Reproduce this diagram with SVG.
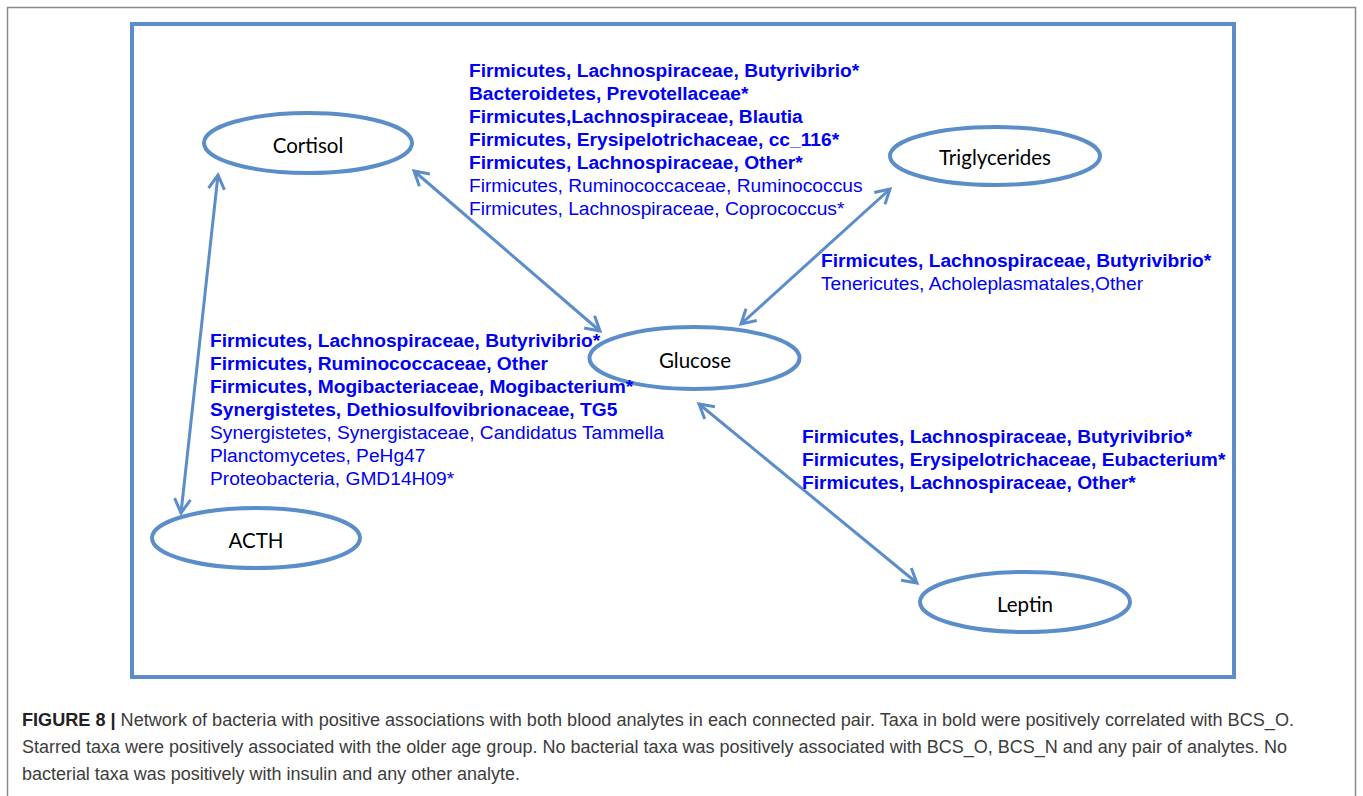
<svg xmlns="http://www.w3.org/2000/svg" width="1363" height="796" viewBox="0 0 1363 796">
<style>
.node ellipse{fill:#fff;stroke:#5b8ec9;stroke-width:4}
.node text{font-family:Lato,"Open Sans","Liberation Sans",sans-serif;font-size:20.5px;fill:#000;text-anchor:middle}
.taxa{font-family:"Liberation Sans",Arial,sans-serif;font-size:19.2px;fill:#0000f5}
.b{font-weight:bold}
.conn line{stroke:#5b8ec9;stroke-width:3;marker-start:url(#ah);marker-end:url(#ah)}
.cap{font-family:"Liberation Sans",Arial,sans-serif;font-size:17.5px;fill:#3c3c3c}
</style>
<defs>
<marker id="ah" markerUnits="userSpaceOnUse" markerWidth="30" markerHeight="30" refX="0" refY="0" orient="auto-start-reverse" overflow="visible" viewBox="-20 -15 30 30">
<path d="M-14,-8 L0,0 L-14,8" fill="none" stroke="#5b8ec9" stroke-width="3" stroke-linejoin="miter"/>
</marker>
</defs>
<rect width="1363" height="796" fill="#fff"/>
<path d="M7.5,800 V7.5 H1355.5 V800" fill="none" stroke="#8a8a8a" stroke-width="1.5"/>
<rect x="132" y="24" width="1102" height="653" fill="none" stroke="#5b8ec9" stroke-width="4"/>
<g class="conn">
<line x1="218" y1="175" x2="181" y2="513"/>
<line x1="414" y1="171" x2="600" y2="331"/>
<line x1="890" y1="189" x2="741" y2="324"/>
<line x1="699" y1="404" x2="917" y2="583"/>
</g>
<g id="cortisol" class="node"><ellipse cx="308" cy="143" rx="104" ry="30"/><text x="308" y="153">Cortisol</text></g>
<g id="triglycerides" class="node"><ellipse cx="995" cy="156" rx="105" ry="29"/><text x="995" y="165">Triglycerides</text></g>
<g id="glucose" class="node"><ellipse cx="694.5" cy="358" rx="105" ry="31"/><text x="695" y="368">Glucose</text></g>
<g id="acth" class="node"><ellipse cx="256" cy="538" rx="104" ry="30"/><text x="256" y="548">ACTH</text></g>
<g id="leptin" class="node"><ellipse cx="1025" cy="602" rx="105" ry="30"/><text x="1025" y="612">Leptin</text></g>
<g id="taxa-cortisol-glucose" class="taxa">
<text x="469" y="77" class="b">Firmicutes, Lachnospiraceae, Butyrivibrio*</text>
<text x="469" y="100" class="b">Bacteroidetes, Prevotellaceae*</text>
<text x="469" y="123" class="b">Firmicutes,Lachnospiraceae, Blautia</text>
<text x="469" y="146" class="b">Firmicutes, Erysipelotrichaceae, cc_116*</text>
<text x="469" y="169" class="b">Firmicutes, Lachnospiraceae, Other*</text>
<text x="469" y="192">Firmicutes, Ruminococcaceae, Ruminococcus</text>
<text x="469" y="215">Firmicutes, Lachnospiraceae, Coprococcus*</text>
</g>
<g id="taxa-triglycerides-glucose" class="taxa">
<text x="821" y="267" class="b">Firmicutes, Lachnospiraceae, Butyrivibrio*</text>
<text x="821" y="290">Tenericutes, Acholeplasmatales,Other</text>
</g>
<g id="taxa-cortisol-acth" class="taxa">
<text x="210" y="347" class="b">Firmicutes, Lachnospiraceae, Butyrivibrio*</text>
<text x="210" y="370" class="b">Firmicutes, Ruminococcaceae, Other</text>
<text x="210" y="393" class="b">Firmicutes, Mogibacteriaceae, Mogibacterium*</text>
<text x="210" y="416" class="b">Synergistetes, Dethiosulfovibrionaceae, TG5</text>
<text x="210" y="439">Synergistetes, Synergistaceae, Candidatus Tammella</text>
<text x="210" y="462">Planctomycetes, PeHg47</text>
<text x="210" y="485">Proteobacteria, GMD14H09*</text>
</g>
<g id="taxa-glucose-leptin" class="taxa">
<text x="802" y="443" class="b">Firmicutes, Lachnospiraceae, Butyrivibrio*</text>
<text x="802" y="466" class="b">Firmicutes, Erysipelotrichaceae, Eubacterium*</text>
<text x="802" y="489" class="b">Firmicutes, Lachnospiraceae, Other*</text>
</g>
<g id="caption" class="cap">
<text x="22" y="726" textLength="1272" lengthAdjust="spacingAndGlyphs"><tspan font-weight="bold" fill="#222">FIGURE 8 | </tspan>Network of bacteria with positive associations with both blood analytes in each connected pair. Taxa in bold were positively correlated with BCS_O.</text>
<text x="22" y="753" textLength="1265" lengthAdjust="spacingAndGlyphs">Starred taxa were positively associated with the older age group. No bacterial taxa was positively associated with BCS_O, BCS_N and any pair of analytes. No</text>
<text x="22" y="780" textLength="498" lengthAdjust="spacingAndGlyphs">bacterial taxa was positively with insulin and any other analyte.</text>
</g>
</svg>
